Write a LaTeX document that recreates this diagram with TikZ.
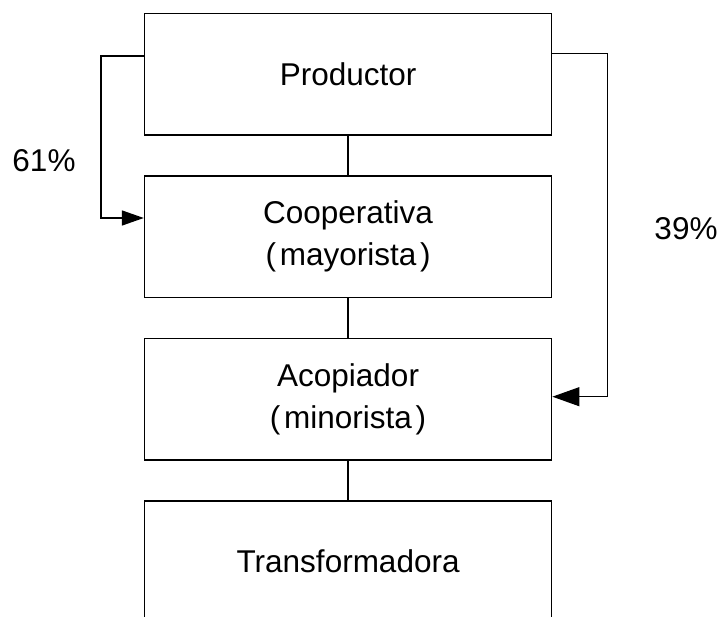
\documentclass[tikz,border=0pt]{standalone}
\usepackage{fontspec}
\setmainfont{Liberation Sans}
\usetikzlibrary{arrows.meta}
\begin{document}
\begin{tikzpicture}[x=1pt,y=-1pt,
  stage/.style={draw, line width=1.6pt, minimum width=407pt, minimum height=121.5pt,
    inner sep=0pt, align=center, font=\fontsize{31.5}{42}\selectfont},
  link/.style={line width=1.6pt},
  share/.style={font=\fontsize{31.5}{42}\selectfont, inner sep=0pt},
  leftflow/.style={line width=1.6pt, -{Triangle[length=22pt,width=15pt]}},
  rightflow/.style={line width=1.1pt, -{Triangle[length=27pt,width=19pt]}}]
  \useasboundingbox (0,0) rectangle (722,617);
  \clip (0,0) rectangle (722,617);
  \fill[white] (0,0) rectangle (722,617);

  % stages of the chain
  \node[stage] (prod)  at (348.1,74.3)  {Productor};
  \node[stage] (coop)  at (348.1,236.7) {Cooperativa\\(\hspace{0.12em}mayorista\hspace{0.12em})};
  \node[stage] (acop)  at (348.1,399.1) {Acopiador\\(\hspace{0.12em}minorista\hspace{0.12em})};
  \node[stage] (trans) at (348.1,561.5) {Transformadora};

  % vertical links between stages
  \draw[link] (prod.south) -- (coop.north);
  \draw[link] (coop.south) -- (acop.north);
  \draw[link] (acop.south) -- (trans.north);

  % flow shares
  \coordinate (lout) at (prod.west |- 0,56);
  \coordinate (lin)  at (coop.west |- 0,218);
  \draw[leftflow] (lout) -- (101,56) -- (101,218) -- (lin);

  \coordinate (rout) at (prod.east |- 0,53.5);
  \coordinate (rin)  at (acop.east |- 0,396.7);
  \draw[rightflow] (rout) -- (607.7,53.5) -- (607.7,396.7) -- (rin);

  \node[share] (pl) at (44,161) {61\%};
  \node[share] (pr) at (686,229) {39\%};
\end{tikzpicture}
\end{document}
